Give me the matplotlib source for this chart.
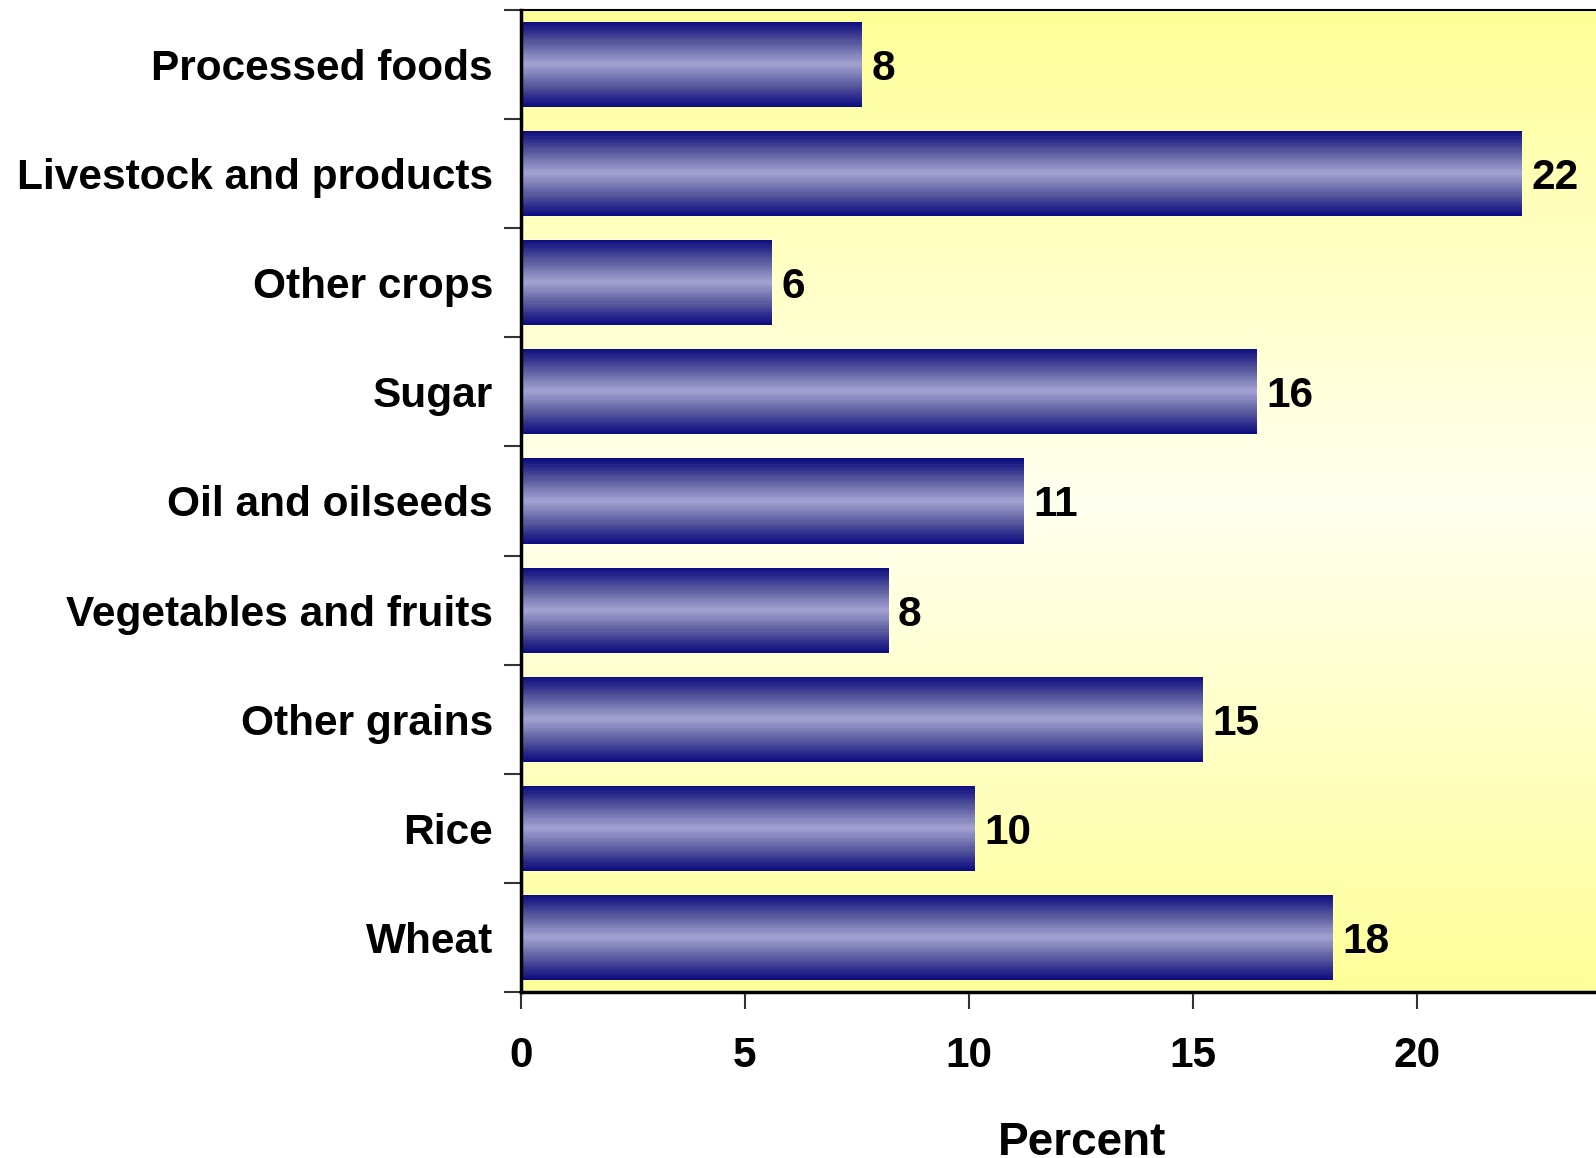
import numpy as np
import matplotlib.pyplot as plt
from matplotlib.colors import LinearSegmentedColormap

categories = ["Wheat", "Rice", "Other grains", "Vegetables and fruits",
              "Oil and oilseeds", "Sugar", "Other crops",
              "Livestock and products", "Processed foods"]
values = [18.11, 10.13, 15.22, 8.20, 11.22, 16.42, 5.59, 22.33, 7.61]
xticks = [0, 5, 10, 15, 20]

plt.rcParams['font.family'] = ['Liberation Sans', 'DejaVu Sans']
plt.rcParams['font.weight'] = 'bold'

fig = plt.figure(figsize=(15.96, 11.58), dpi=100)
ax = fig.add_axes([0.3263, 0.1434, 0.6737, 0.848])

xmax = 24
y = np.arange(len(categories))
ax.set_xlim(0, xmax)
ax.set_ylim(-0.5, len(categories) - 0.5)

# background: yellow at top/bottom, pale in the middle
bg_cmap = LinearSegmentedColormap.from_list("bg", ["#ffff99", "#fffff0", "#ffff99"])
grad = np.linspace(0, 1, 256).reshape(-1, 1)
ax.imshow(grad, cmap=bg_cmap, aspect='auto', extent=[0, xmax, -0.5, len(categories) - 0.5],
          origin='lower', zorder=0, interpolation='bicubic')

# bars with a vertical "tube" gradient
bar_cmap = LinearSegmentedColormap.from_list("bar", ["#0d0d80", "#5a5a9e", "#a5a5d5", "#5a5a9e", "#0d0d80"])
h = 0.78
bars = ax.barh(y, values, height=h, color='none', zorder=2)
tube = np.linspace(0, 1, 40).reshape(-1, 1)
for b in bars:
    x0, y0 = b.get_x(), b.get_y()
    w, hh = b.get_width(), b.get_height()
    im = ax.imshow(tube, cmap=bar_cmap, aspect='auto', extent=[x0, x0 + w, y0, y0 + hh],
                   origin='lower', zorder=2, interpolation='nearest')
    im.set_clip_path(b)

for yi, v in zip(y, values):
    ax.text(v + 0.22, yi, "%.0f" % v, va='center_baseline', ha='left', fontsize=30.5,
            fontweight='bold', zorder=3)

ax.set_yticks(y)
ax.set_yticklabels(categories, fontsize=30.5, fontweight='bold', va='center_baseline')
ax.tick_params(axis='y', length=0, pad=20)
ax.set_yticks(np.arange(-0.5, len(categories), 1), minor=True)
ax.tick_params(axis='y', which='minor', length=12, width=1.5, color='#333333')

ax.set_xticks(xticks)
ax.set_xticklabels([str(t) for t in xticks], fontsize=30.5, fontweight='bold')
ax.tick_params(axis='x', length=12, width=1.5, color='#333333', pad=20)
ax.set_xlabel("Percent", fontsize=33, fontweight='bold', va='top')
ax.xaxis.set_label_coords(0.522, -0.131)

ax.spines['left'].set_linewidth(2.5)
ax.spines['bottom'].set_linewidth(2.5)
ax.spines['top'].set_linewidth(1.5)
ax.spines['right'].set_visible(False)

fig.savefig("out.png", dpi=100)
